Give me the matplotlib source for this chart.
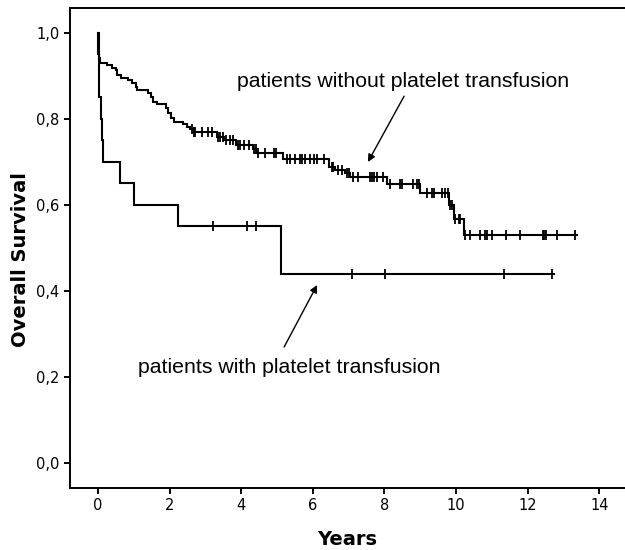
"""Kaplan-Meier overall survival, with vs without platelet transfusion."""

import matplotlib

matplotlib.use("Agg")
import matplotlib.pyplot as plt
import numpy as np

# step data: time of each drop (years) and survival after it
without_drop_t = [0.02, 0.05, 0.24, 0.38, 0.49, 0.52, 0.64, 0.85, 0.94, 1.05,
                  1.08, 1.39, 1.48, 1.55, 1.64, 1.89, 1.95, 2.04, 2.11, 2.38,
                  2.48, 2.57, 2.66, 3.32, 3.52, 3.85, 4.32, 4.42, 5.18, 6.44,
                  6.62, 6.90, 7.04, 8.07, 9.00, 9.80, 9.93, 10.21]
without_drop_s = [0.942, 0.930, 0.926, 0.919, 0.914, 0.902, 0.896, 0.891, 0.883, 0.875,
                  0.867, 0.860, 0.852, 0.840, 0.834, 0.825, 0.813, 0.803, 0.792, 0.788,
                  0.782, 0.777, 0.770, 0.759, 0.751, 0.740, 0.730, 0.720, 0.706, 0.689,
                  0.681, 0.674, 0.664, 0.648, 0.629, 0.600, 0.567, 0.530]
without_end = 13.38
without_censor_t = [2.62, 2.68, 2.72, 2.90, 3.08, 3.18, 3.36, 3.42, 3.48, 3.58,
                    3.70, 3.78, 3.90, 3.96, 4.08, 4.22, 4.36, 4.40, 4.46, 4.67,
                    4.92, 4.98, 5.27, 5.37, 5.51, 5.65, 5.69, 5.79, 5.92, 6.02,
                    6.11, 6.30, 6.53, 6.57, 6.71, 6.81, 6.95, 7.00, 7.13, 7.27,
                    7.60, 7.66, 7.72, 7.79, 7.97, 8.16, 8.44, 8.49, 8.81, 8.92,
                    8.97, 9.18, 9.34, 9.38, 9.60, 9.70, 9.79, 9.84, 9.88, 9.97,
                    10.07, 10.11, 10.25, 10.39, 10.67, 10.81, 10.86, 11.00, 11.40, 11.79,
                    12.42, 12.46, 12.50, 12.82, 13.33]

with_drop_t = [0.01, 0.02, 0.03, 0.08, 0.10, 0.13, 0.61, 1.01, 2.24, 5.11]
with_drop_s = [0.95, 0.90, 0.85, 0.80, 0.75, 0.70, 0.65, 0.60, 0.55, 0.44]
with_end = 12.75
with_censor_t = [3.22, 4.15, 4.41, 7.09, 8.02, 11.34, 12.68]

xticks = [0, 2, 4, 6, 8, 10, 12, 14]
yticks = [0.0, 0.2, 0.4, 0.6, 0.8, 1.0]
ytick_labels = ["0,0", "0,2", "0,4", "0,6", "0,8", "1,0"]

label_without = "patients without platelet transfusion"
label_with = "patients with platelet transfusion"


def step_arrays(drop_t, drop_s, end):
    t = np.concatenate([[0.0], drop_t, [end]])
    s = np.concatenate([[1.0], drop_s, [drop_s[-1]]])
    return t, s


def draw_curve(ax, drop_t, drop_s, end, censor_t):
    t, s = step_arrays(drop_t, drop_s, end)
    ax.step(t, s, where="post", color="black", linewidth=1.5, solid_joinstyle="miter")
    idx = np.searchsorted(t, censor_t, side="right") - 1
    ax.plot(censor_t, s[idx], linestyle="none", marker="|", markersize=6.5,
            markeredgewidth=1.3, color="black")


def main():
    fig = plt.figure(figsize=(6.25, 5.5), dpi=100)
    ax = fig.add_axes([70 / 625, 62 / 550, 555 / 625, 480 / 550])

    draw_curve(ax, without_drop_t, without_drop_s, without_end, without_censor_t)
    draw_curve(ax, with_drop_t, with_drop_s, with_end, with_censor_t)

    ax.set_xlim(-0.782, 14.72)
    ax.set_ylim(-0.058, 1.058)
    ax.set_xticks(xticks)
    ax.set_yticks(yticks)
    ax.set_yticklabels(ytick_labels)
    ax.tick_params(direction="out", length=4, width=1.4, labelsize=10.5, color="black")
    for side in ("left", "bottom", "top"):
        ax.spines[side].set_linewidth(1.4)
    ax.spines["right"].set_visible(False)

    ax.set_xlabel("Years", fontsize=14, fontweight="bold", labelpad=12)
    ax.set_ylabel("Overall Survival", fontsize=14, fontweight="bold")
    ax.yaxis.set_label_coords(-0.072, 0.475)

    txt = dict(fontsize=15.3, family=["Liberation Sans", "DejaVu Sans"])
    ax.text(8.52, 0.886, label_without, ha="center", va="center", **txt)
    ax.text(1.12, 0.223, label_with, ha="left", va="center", **txt)
    arrow = dict(arrowstyle="-|>", color="black", lw=1.0, mutation_scale=11, shrinkA=0, shrinkB=0)
    ax.annotate("", xy=(7.54, 0.700), xytext=(8.55, 0.853), arrowprops=arrow)
    ax.annotate("", xy=(6.12, 0.414), xytext=(5.20, 0.270), arrowprops=arrow)

    fig.savefig("out.png", dpi=100)
    plt.close(fig)


if __name__ == "__main__":
    main()
